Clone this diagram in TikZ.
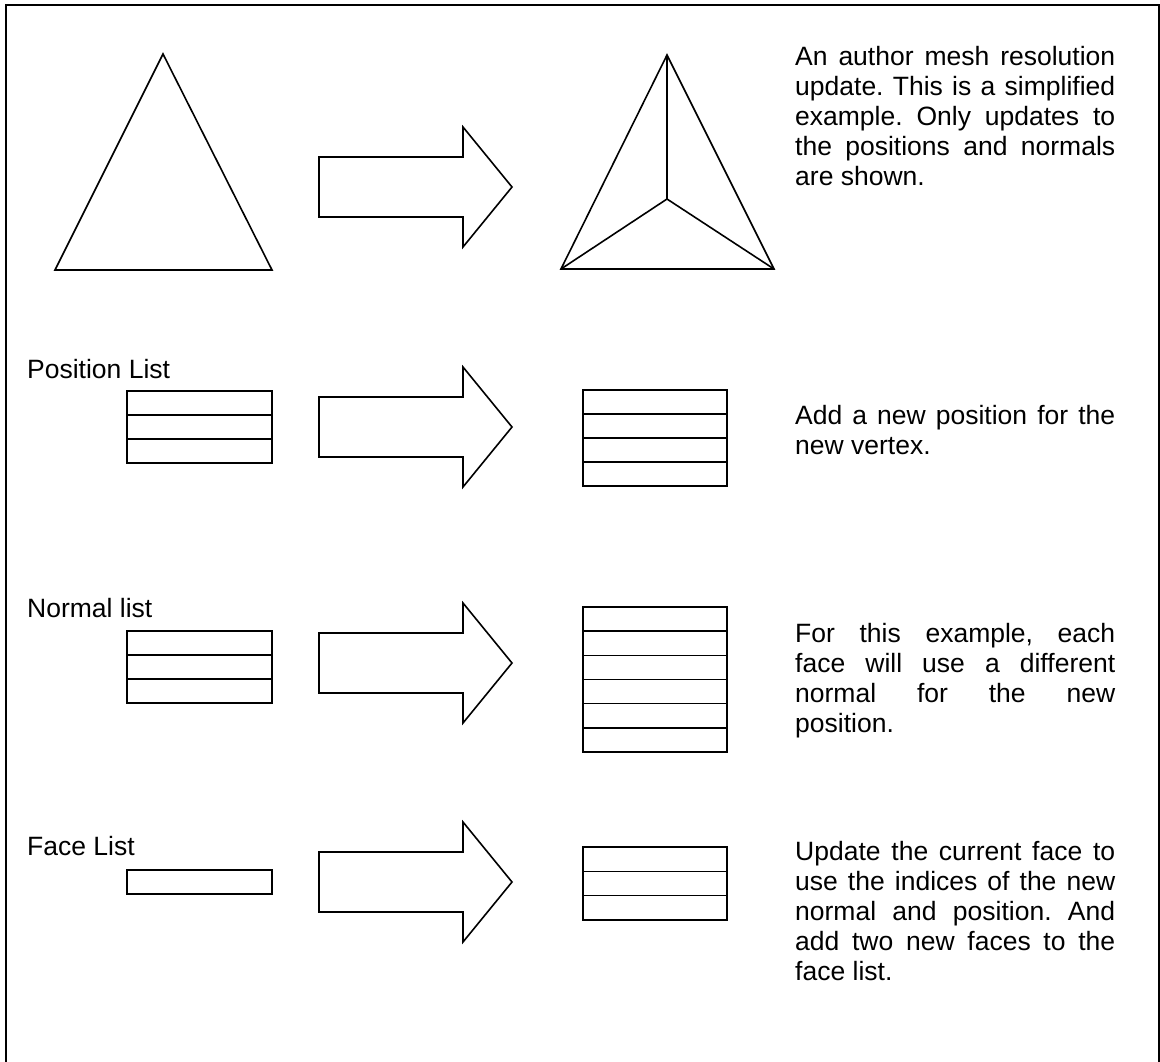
\documentclass[tikz,border=0pt]{standalone}
\usepackage{fontspec}
\setmainfont{Liberation Sans}
\frenchspacing
\tikzset{
  shapeline/.style={draw=black, line width=1.6pt, line join=miter},
  para/.style={anchor=base west, inner sep=0pt, align=left, font=\fontsize{26.5}{30}\selectfont\frenchspacing},
  labeltext/.style={anchor=base west, inner sep=0pt, font=\fontsize{26.5}{30}\selectfont},
}
\newcommand\jline[1]{\makebox[320pt][s]{#1}}
\newcommand\fatarrow[1]{%
  \draw[shapeline] (319,#1-30) -- (463,#1-30) -- (463,#1-60) -- (512,#1)
    -- (463,#1+60) -- (463,#1+30) -- (319,#1+30) -- cycle;}
\newcommand\listbox[5]{% x, top, rows, row height, width
  \foreach \i in {1,...,#3}{
    \draw[shapeline] (#1,{#2+(\i-1)*#4}) rectangle ++(#5,#4);}}
\begin{document}
\begin{tikzpicture}[x=1pt,y=-1pt]
\useasboundingbox (0,0) rectangle (1160,1061);
% frame
\draw[shapeline] (6,1075) -- (6,5) -- (1159,5) -- (1159,1075);

% row 1: triangles
\coordinate (a1) at (163,54);
\coordinate (b1) at (55,270);
\coordinate (c1) at (272,270);
\draw[shapeline] (a1) -- (b1) -- (c1) -- cycle;
\fatarrow{187}
\coordinate (a2) at (667,55);
\coordinate (b2) at (561,269);
\coordinate (c2) at (774,269);
\coordinate (m2) at (667,199);
\draw[shapeline] (a2) -- (b2) -- (c2) -- cycle;
\draw[shapeline] (a2) -- (m2) (b2) -- (m2) -- (c2);
% base anchor = baseline of the last line
\node[para] (t1) at (795,185) {\jline{An author mesh resolution}\\
  \jline{update. This is a simplified}\\
  \jline{example. Only updates to}\\
  \jline{the positions and normals}\\
  are shown.};

% row 2: positions
\node[labeltext] (lpos) at (27,378) {Position List};
\listbox{127}{391}{3}{24}{145}
\fatarrow{427}
\listbox{583}{390}{4}{24}{144}
\node[para] (t2) at (795,454) {\jline{Add a new position for the}\\
  new vertex.};

% row 3: normals
\node[labeltext] (lnorm) at (27,617) {Normal list};
\listbox{127}{631}{3}{24}{145}
\fatarrow{663}
\listbox{583}{607}{6}{24.17}{144}
\node[para] (t3) at (795,732) {\jline{For this example, each}\\
  \jline{face will use a different}\\
  \jline{normal for the new}\\
  position.};

% row 4: faces
\node[labeltext] (lface) at (27,855) {Face List};
\listbox{127}{870}{1}{24}{145}
\fatarrow{882}
\listbox{583}{847}{3}{24.3}{144}
\node[para] (t4) at (795,980) {\jline{Update the current face to}\\
  \jline{use the indices of the new}\\
  \jline{normal and position. And}\\
  \jline{add two new faces to the}\\
  face list.};
\end{tikzpicture}
\end{document}
